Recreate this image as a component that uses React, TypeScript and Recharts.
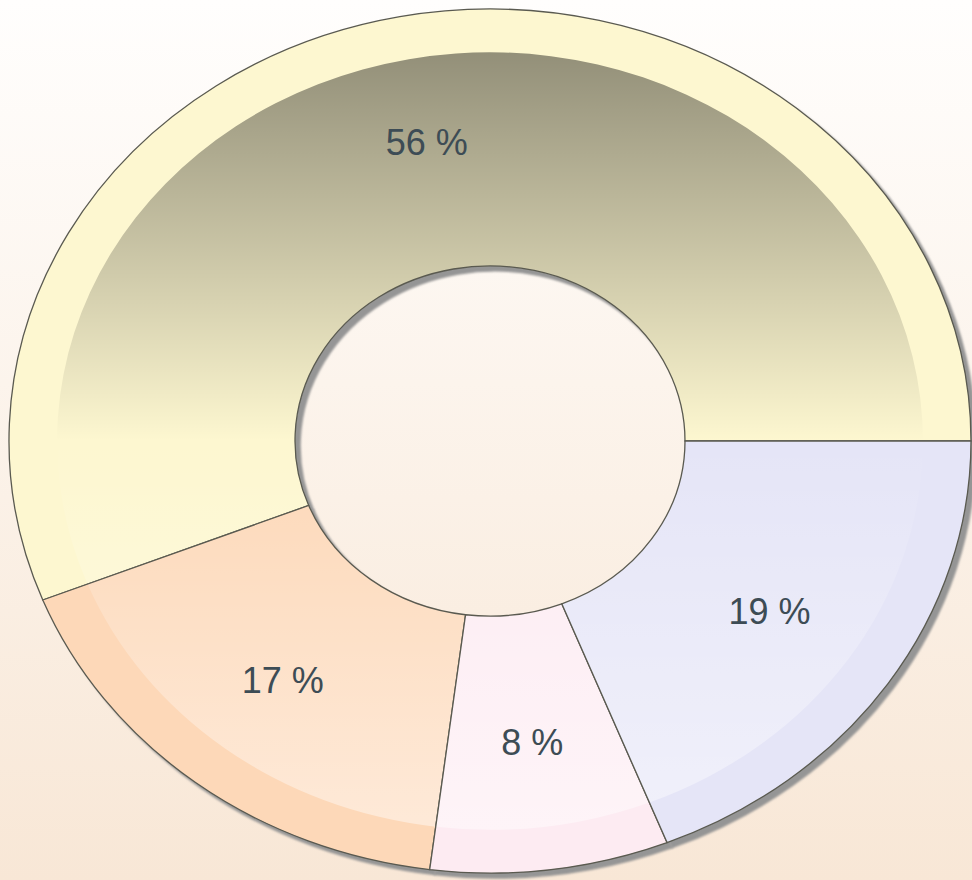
import { PieChart, Pie, Cell } from "recharts";

const categories = ["Slice A", "Slice B", "Slice C", "Slice D"];
const values = [56, 17, 8, 19];
const colors = ["#fdf7d0", "#fdd8b8", "#fdebf2", "#e5e5f7"];

const data = categories.map((name, i) => ({ name, value: values[i] }));

const W = 972;
const H = 880;
const CX = 490;
const CY = 441;
const OUTER = 481;
const INNER = 195;
const KY = 0.898; // vertical squash for the tilted look

const RAD = Math.PI / 180;

function ellSector(cx: number, cy: number, ri: number, ro: number, a0: number, a1: number) {
  const pt = (r: number, a: number) => [cx + r * Math.cos(a * RAD), cy - r * KY * Math.sin(a * RAD)];
  const [x0, y0] = pt(ro, a0);
  const [x1, y1] = pt(ro, a1);
  const [x2, y2] = pt(ri, a1);
  const [x3, y3] = pt(ri, a0);
  const large = Math.abs(a1 - a0) > 180 ? 1 : 0;
  const sweep = a1 > a0 ? 0 : 1;
  return (
    `M${x0},${y0} A${ro},${ro * KY} 0 ${large} ${sweep} ${x1},${y1} ` +
    `L${x2},${y2} A${ri},${ri * KY} 0 ${large} ${1 - sweep} ${x3},${y3} Z`
  );
}

function SliceShape(props: any) {
  const { cx, cy, innerRadius, outerRadius, startAngle, endAngle, fill } = props;
  return (
    <g>
      <path d={ellSector(cx, cy, innerRadius, outerRadius, startAngle, endAngle)} fill={fill} stroke="none" />
      <path d={ellSector(cx, cy, innerRadius, outerRadius * 0.9, startAngle, endAngle)} fill="url(#shade)" stroke="none" />
      <path
        d={ellSector(cx, cy, innerRadius, outerRadius, startAngle, endAngle)}
        fill="none"
        stroke="#5a5a50"
        strokeWidth={1.3}
      />
    </g>
  );
}

function ShadowShape(props: any) {
  const { cx, cy, innerRadius, outerRadius, startAngle, endAngle } = props;
  return (
    <path
      d={ellSector(cx, cy, innerRadius, outerRadius, startAngle, endAngle)}
      fill="#959595"
      stroke="#959595"
      strokeWidth={1.5}
      filter="url(#blur)"
    />
  );
}

function renderLabel(props: any) {
  const { cx, cy, midAngle, innerRadius, outerRadius, percent } = props;
  const r = (innerRadius + outerRadius) / 2;
  const x = cx + r * Math.cos(midAngle * RAD);
  const y = cy - r * KY * Math.sin(midAngle * RAD);
  return (
    <text
      x={x}
      y={y}
      textAnchor="middle"
      dominantBaseline="central"
      fill="#3d4c55"
      fontSize={36}
      fontFamily="'Liberation Sans', Arial, sans-serif"
    >
      {`${Math.round(percent * 100)} %`}
    </text>
  );
}

export default function App() {
  return (
    <div
      style={{
        position: "absolute",
        left: 0,
        top: 0,
        width: W,
        height: H,
        background: "linear-gradient(#fffefd, #f8e7d6)",
        overflow: "hidden",
      }}
    >
      <PieChart width={W} height={H} margin={{ top: 0, right: 0, bottom: 0, left: 0 }}>
        <defs>
          <linearGradient id="shade" gradientUnits="userSpaceOnUse" x1="0" y1={CY - OUTER * KY * 0.9} x2="0" y2={CY + OUTER * KY * 0.9}>
            <stop offset="0%" stopColor="#000" stopOpacity={0.42} />
            <stop offset="50%" stopColor="#000" stopOpacity={0} />
            <stop offset="50%" stopColor="#fff" stopOpacity={0} />
            <stop offset="100%" stopColor="#fff" stopOpacity={0.45} />
          </linearGradient>
          <filter id="blur" x="-5%" y="-5%" width="110%" height="110%">
            <feGaussianBlur stdDeviation="1" />
          </filter>
        </defs>
        <Pie
          data={data}
          dataKey="value"
          cx={CX + 5}
          cy={CY + 5}
          innerRadius={INNER}
          outerRadius={OUTER}
          startAngle={0}
          endAngle={360}
          stroke="none"
          label={false}
          labelLine={false}
          shape={ShadowShape}
          inactiveShape={ShadowShape}
          activeShape={ShadowShape}
          isAnimationActive={false}
        />
        <Pie
          data={data}
          dataKey="value"
          cx={CX}
          cy={CY}
          innerRadius={INNER}
          outerRadius={OUTER}
          startAngle={0}
          endAngle={360}
          label={renderLabel}
          labelLine={false}
          shape={SliceShape}
          inactiveShape={SliceShape}
          activeShape={SliceShape}
          isAnimationActive={false}
        >
          {data.map((d, i) => (
            <Cell key={d.name} fill={colors[i]} />
          ))}
        </Pie>
      </PieChart>
    </div>
  );
}
